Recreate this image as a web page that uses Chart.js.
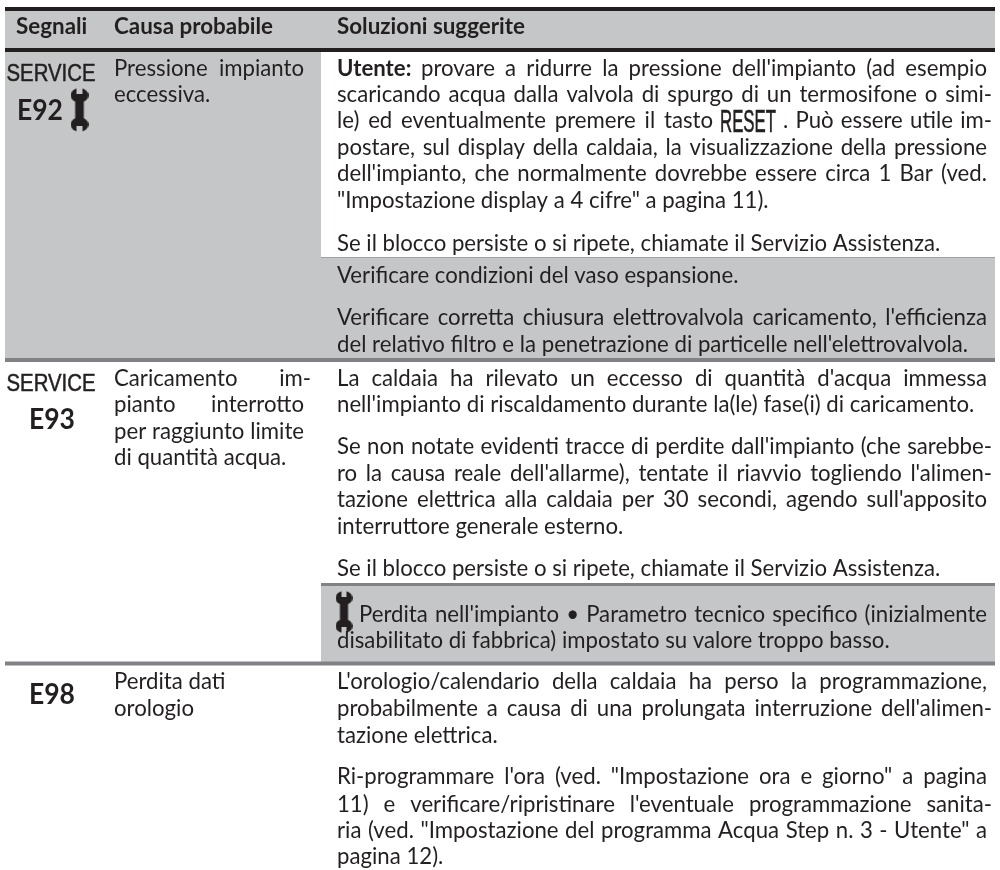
<!DOCTYPE html>
<html>
<head>
<meta charset="utf-8">
<style>
  html, body { margin: 0; padding: 0; background: #fff; }
  #tabella { display: block; }
</style>
<script src="https://cdn.jsdelivr.net/npm/chart.js@4"></script>
</head>
<body>
<canvas id="tabella" width="1000" height="870"></canvas>
<script>
// intestazioni delle colonne
const intestazioni = ["Segnali", "Causa probabile", "Soluzioni suggerite"]
const intestazioniX = [16, 114, 337]

// fasce grigie: inizio e fine su x, inizio e fine su y
const fasceX0 = [5, 5, 321, 321]
const fasceX1 = [995, 321, 995, 995]
const fasceY0 = [10, 51, 258, 585]
const fasceY1 = [49, 359, 359, 663]

// linee orizzontali
const lineeX0 = [5, 5, 321, 5, 321, 5]
const lineeY = [9, 50, 257.5, 360, 584.5, 663.5]
const lineeSpessore = [4, 4, 1, 4, 3, 4]
const lineeColore = ["#231f20", "#231f20", "#a0a1a4", "#808285", "#808285", "#808285"]

// colonna cause
const causaTesti = [
  ["Pressione impianto", "eccessiva."],
  ["Caricamento im-", "pianto interrotto", "per raggiunto limite", "di quantità acqua."],
  ["Perdita dati", "orologio"],
]
const causaBase = [
  [76, 102],
  [386, 412, 439, 465],
  [689, 716],
]
const causaGiustificate = [
  [true, false],
  [true, true, true, false],
  [false, false],
]

// colonna soluzioni, un gruppo per paragrafo: l'ultima riga non è giustificata
const soluzioniTesti = [
  ["scaricando acqua dalla valvola di spurgo di un termosifone o simi-", ""],
  ["postare, sul display della caldaia, la visualizzazione della pressione",
   "dell'impianto, che normalmente dovrebbe essere circa 1 Bar (ved.",
   "\"Impostazione display a 4 cifre\" a pagina 11)."],
  ["Se il blocco persiste o si ripete, chiamate il Servizio Assistenza."],
  ["Verificare condizioni del vaso espansione."],
  ["Verificare corretta chiusura elettrovalvola caricamento, l'efficienza",
   "del relativo filtro e la penetrazione di particelle nell'elettrovalvola."],
  ["La caldaia ha rilevato un eccesso di quantità d'acqua immessa",
   "nell'impianto di riscaldamento durante la(le) fase(i) di caricamento."],
  ["Se non notate evidenti tracce di perdite dall'impianto (che sarebbe-",
   "ro la causa reale dell'allarme), tentate il riavvio togliendo l'alimen-",
   "tazione elettrica alla caldaia per 30 secondi, agendo sull'apposito",
   "interruttore generale esterno."],
  ["Se il blocco persiste o si ripete, chiamate il Servizio Assistenza."],
  ["disabilitato di fabbrica) impostato su valore troppo basso."],
  ["L'orologio/calendario della caldaia ha perso la programmazione,",
   "probabilmente a causa di una prolungata interruzione dell'alimen-",
   "tazione elettrica."],
  ["Ri-programmare l'ora (ved. \"Impostazione ora e giorno\" a pagina",
   "11) e verificare/ripristinare l'eventuale programmazione sanita-",
   "ria (ved. \"Impostazione del programma Acqua Step n. 3 - Utente\" a",
   "pagina 12)."],
]
const soluzioniBase = [
  [102, 0],
  [155, 181, 208],
  [251],
  [283],
  [325, 352],
  [386, 412],
  [454, 481, 507, 534],
  [576],
  [648],
  [689, 716, 743],
  [784, 812, 838, 864],
]

// righe composte da più pezzi: testo, inizio, fine
const pezziTesti = ["Utente:", "provare a ridurre la pressione dell'impianto (ad esempio",
  "le) ed eventualmente premere il tasto", "RESET", ". Può essere utile im-",
  "Perdita nell'impianto • Parametro tecnico specifico (inizialmente"]
const pezziX0 = [337, 421, 337, 720, 783, 359]
const pezziX1 = [412, 987, 713, 776, 992, 987]
const pezziBase = [76, 76, 128, 132, 128, 622]

// segnali della prima colonna
const segnaliTesti = ["SERVICE", "E92", "SERVICE", "E93", "E98"]
const segnaliX = [51, 40, 51, 52, 52]
const segnaliBase = [81, 120, 391, 429, 704]

// chiavi inglesi
const chiaviX = [79.5, 344]
const chiaviY = [110, 612]

const NERO = "#231f20"
const GRIGIO = "#c5c6c8"
const FONT = "Lato, 'Open Sans', sans-serif"

// disegna una chiave inglese su un canvas, usata come pointStyle
function creaChiave(w, h) {
  const c = document.createElement("canvas")
  c.width = w
  c.height = h
  const ctx = c.getContext("2d")
  ctx.fillStyle = NERO
  const r = w / 2
  const ry = r * 0.82
  ctx.beginPath()
  ctx.ellipse(r, ry, r, ry, 0, 0, Math.PI * 2)
  ctx.ellipse(r, h - ry, r, ry, 0, 0, Math.PI * 2)
  ctx.fill()
  ctx.fillRect(w * 0.26, ry, w * 0.48, h - 2 * ry)
  // tacche delle due teste
  ctx.clearRect(w * 0.36, 0, w * 0.28, ry * 0.85)
  ctx.clearRect(w * 0.36, h - ry * 0.85, w * 0.28, ry * 0.85)
  return c
}

const datasets = []

// le fasce: linea a due punti riempita fino a y1
fasceX0.forEach((x0, i) => {
  datasets.push({
    type: "line",
    order: 3,
    data: [{ x: x0, y: fasceY0[i] }, { x: fasceX1[i], y: fasceY0[i] }],
    borderWidth: 0,
    pointRadius: 0,
    backgroundColor: GRIGIO,
    fill: { value: fasceY1[i] },
  })
})

// le linee orizzontali
lineeY.forEach((y, i) => {
  datasets.push({
    type: "line",
    order: 2,
    data: [{ x: lineeX0[i], y: y }, { x: 995, y: y }],
    borderColor: lineeColore[i],
    borderWidth: lineeSpessore[i],
    pointRadius: 0,
    fill: false,
  })
})

// le chiavi
datasets.push({
  type: "scatter",
  order: 1,
  data: chiaviX.map((x, i) => ({ x: x, y: chiaviY[i] })),
  pointStyle: [creaChiave(18, 44), creaChiave(17, 42)],
  showLine: false,
})

// testo su una riga: se giustifica allarga gli spazi fino a x1
function riga(ctx, testo, x0, x1, y, giustifica) {
  ctx.wordSpacing = "0px"
  const w = ctx.measureText(testo).width
  const spazi = testo.split(" ").length - 1
  if (giustifica && spazi > 0) {
    ctx.wordSpacing = ((x1 - x0 - w) / spazi) + "px"
    ctx.fillText(testo, x0, y, x1 - x0)
  } else if (giustifica) {
    ctx.fillText(testo, x0, y, x1 - x0)
  } else {
    ctx.fillText(testo, x0, y)
  }
  ctx.wordSpacing = "0px"
}

const pluginTesti = {
  id: "testi",
  afterDatasetsDraw(chart) {
    const ctx = chart.ctx
    const sx = chart.scales.x
    const sy = chart.scales.y
    ctx.save()
    ctx.fillStyle = NERO
    ctx.strokeStyle = NERO
    ctx.textBaseline = "alphabetic"
    ctx.textAlign = "left"

    // intestazioni
    ctx.font = "bold 22.4px " + FONT
    intestazioni.forEach((t, i) => {
      riga(ctx, t, sx.getPixelForValue(intestazioniX[i]), 0, sy.getPixelForValue(34), false)
    })

    // cause
    ctx.font = "22.2px " + FONT
    causaTesti.forEach((par, p) => {
      par.forEach((t, i) => {
        const destra = t.endsWith("-") ? 311 : 304
        riga(ctx, t, sx.getPixelForValue(114), sx.getPixelForValue(destra), sy.getPixelForValue(causaBase[p][i]), causaGiustificate[p][i])
      })
    })

    // soluzioni
    soluzioniTesti.forEach((par, p) => {
      par.forEach((t, i) => {
        if (t == "") return
        const destra = t.endsWith("-") ? 992 : 987
        riga(ctx, t, sx.getPixelForValue(337), sx.getPixelForValue(destra), sy.getPixelForValue(soluzioniBase[p][i]), i < par.length - 1)
      })
    })

    // pezzi
    pezziTesti.forEach((t, i) => {
      const x0 = sx.getPixelForValue(pezziX0[i])
      const x1 = sx.getPixelForValue(pezziX1[i])
      const y = sy.getPixelForValue(pezziBase[i])
      if (t == "RESET") {
        // scritta stretta e alta come quella del display
        ctx.font = "31px 'Liberation Sans', sans-serif"
        ctx.lineWidth = 0.6
        ctx.fillText(t, x0, y, x1 - x0)
        ctx.strokeText(t, x0, y, x1 - x0)
        return
      }
      ctx.font = (t == "Utente:" ? "bold 22.2px " : "22.2px ") + FONT
      riga(ctx, t, x0, x1, y, true)
    })

    // segnali
    ctx.textAlign = "center"
    segnaliTesti.forEach((t, i) => {
      const x = sx.getPixelForValue(segnaliX[i])
      const y = sy.getPixelForValue(segnaliBase[i])
      if (t == "SERVICE") {
        ctx.font = "23px 'Liberation Sans', sans-serif"
        ctx.lineWidth = 0.5
        ctx.fillText(t, x, y, 89)
        ctx.strokeText(t, x, y, 89)
      } else {
        ctx.font = "bold 28px " + FONT
        ctx.fillText(t, x, y, 46)
      }
    })
    ctx.restore()
  },
}

new Chart(document.getElementById("tabella"), {
  type: "line",
  data: { datasets: datasets },
  plugins: [pluginTesti],
  options: {
    responsive: false,
    animation: false,
    layout: { padding: 0, autoPadding: false },
    plugins: { legend: { display: false }, tooltip: { enabled: false } },
    scales: {
      x: { type: "linear", min: 0, max: 1000, display: false },
      y: { type: "linear", min: 0, max: 870, reverse: true, display: false },
    },
  },
})
</script>
</body>
</html>
